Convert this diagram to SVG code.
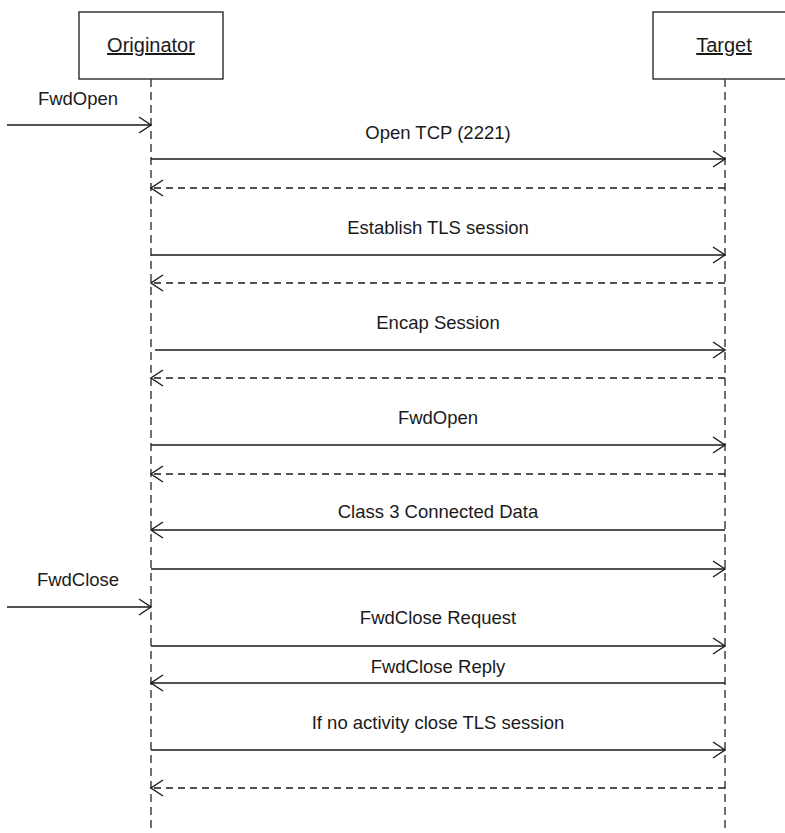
<svg xmlns="http://www.w3.org/2000/svg" width="785" height="833" viewBox="0 0 785 833">
<style>
  .box{fill:#fff;stroke:#1a1a1a;stroke-width:1.3}
  .life{stroke:#404040;stroke-width:1.5;stroke-dasharray:8 5;fill:none}
  .msg{stroke:#1a1a1a;stroke-width:1.4;fill:none}
  .ret{stroke:#1a1a1a;stroke-width:1.4;fill:none;stroke-dasharray:7 5}
  .hd{stroke:#1a1a1a;stroke-width:1.4;fill:none}
  text{font-family:"Liberation Sans",Arial,sans-serif;fill:#1a1a1a}
  .lbl{font-size:18.5px;text-anchor:middle}
  .ttl{font-size:20px;text-anchor:middle;text-decoration:underline}
</style>
<defs>
  <marker id="ah" markerUnits="userSpaceOnUse" viewBox="-14 -10 16 20" refX="0" refY="0" markerWidth="16" markerHeight="20" orient="auto">
    <path class="hd" d="M-12,-8 L0,0 L-12,8"/>
  </marker>
</defs>
<rect width="785" height="833" fill="#fff"/>
<g id="originator">
  <rect class="box" x="79" y="12" width="144" height="67"/>
  <text class="ttl" x="151" y="52">Originator</text>
  <line class="life" x1="151" y1="79" x2="151" y2="833"/>
</g>
<g id="target">
  <rect class="box" x="653" y="12" width="144" height="67"/>
  <text class="ttl" x="724" y="52">Target</text>
  <line class="life" x1="725" y1="79" x2="725" y2="833"/>
</g>
<g id="connectors">
  <line class="msg" x1="7" y1="125" x2="151" y2="125" marker-end="url(#ah)"/>
  <line class="msg" x1="151" y1="159" x2="725" y2="159" marker-end="url(#ah)"/>
  <line class="ret" x1="725" y1="188" x2="151" y2="188" marker-end="url(#ah)"/>
  <line class="msg" x1="151" y1="255" x2="725" y2="255" marker-end="url(#ah)"/>
  <line class="ret" x1="725" y1="283" x2="151" y2="283" marker-end="url(#ah)"/>
  <line class="msg" x1="155" y1="350" x2="725" y2="350" marker-end="url(#ah)"/>
  <line class="ret" x1="725" y1="378" x2="151" y2="378" marker-end="url(#ah)"/>
  <line class="msg" x1="151" y1="445" x2="725" y2="445" marker-end="url(#ah)"/>
  <line class="ret" x1="725" y1="474" x2="151" y2="474" marker-end="url(#ah)"/>
  <line class="msg" x1="725" y1="530" x2="151" y2="530" marker-end="url(#ah)"/>
  <line class="msg" x1="151" y1="569" x2="725" y2="569" marker-end="url(#ah)"/>
  <line class="msg" x1="7" y1="607" x2="151" y2="607" marker-end="url(#ah)"/>
  <line class="msg" x1="151" y1="646" x2="725" y2="646" marker-end="url(#ah)"/>
  <line class="msg" x1="725" y1="683" x2="151" y2="683" marker-end="url(#ah)"/>
  <line class="msg" x1="151" y1="750" x2="725" y2="750" marker-end="url(#ah)"/>
  <line class="ret" x1="725" y1="788" x2="151" y2="788" marker-end="url(#ah)"/>
</g>
<g id="labels">
  <text class="lbl" x="78" y="105">FwdOpen</text>
  <text class="lbl" x="438" y="139">Open TCP (2221)</text>
  <text class="lbl" x="438" y="234">Establish TLS session</text>
  <text class="lbl" x="438" y="329">Encap Session</text>
  <text class="lbl" x="438" y="424">FwdOpen</text>
  <text class="lbl" x="438" y="518">Class 3 Connected Data</text>
  <text class="lbl" x="78" y="586">FwdClose</text>
  <text class="lbl" x="438" y="624">FwdClose Request</text>
  <text class="lbl" x="438" y="673">FwdClose Reply</text>
  <text class="lbl" x="438" y="729">If no activity close TLS session</text>
</g>
</svg>
